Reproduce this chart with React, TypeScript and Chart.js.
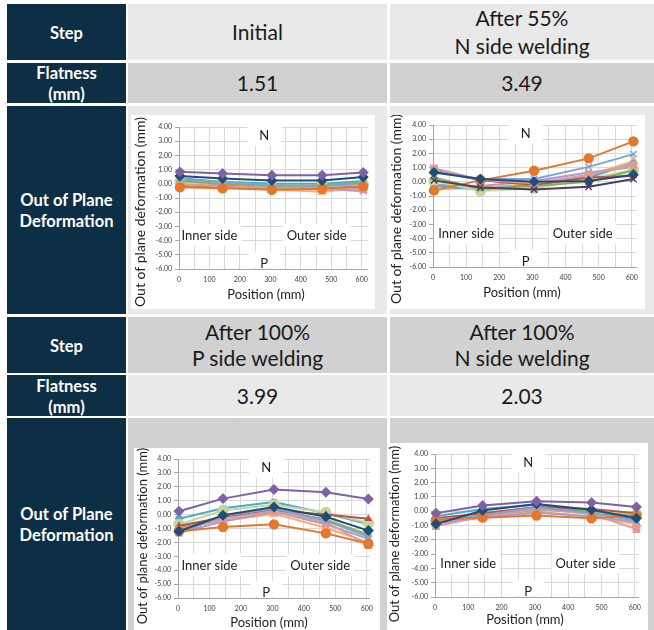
import React, { useEffect, useRef } from "react";
import { Chart, registerables } from "chart.js";
Chart.register(...registerables);

// ---------- data ----------
const positions = [3, 143, 305, 470, 605];
const xGridTicks = [0, 50, 100, 150, 200, 250, 300, 350, 400, 450, 500, 550, 600];
const yTickValues = [4, 3, 2, 1, 0, -1, -2, -3, -4, -5, -6];

const stepLabels = ["Initial", "After 55%\nN side welding", "After 100%\nP side welding", "After 100%\nN side welding"];
const flatnessValues = ["1.51", "3.49", "3.99", "2.03"];
const sideLabels = ["N", "P", "Inner side", "Outer side"];
const sideLabelX = [280, 280, 100, 452];
const sideLabelY = [3.45, -5.55, -3.6, -3.6];

// Initial
const initialPurple = [0.84, 0.72, 0.6, 0.6, 0.8];
const initialDarkBlue = [0.55, 0.37, 0.23, 0.23, 0.48];
const initialOrange = [-0.25, -0.32, -0.42, -0.35, -0.18];
const initialLightBlue = [0.4, 0.12, -0.08, -0.18, 0.02];
const initialPink = [-0.05, -0.18, -0.32, -0.3, -0.4];
const initialRed = [-0.12, -0.15, -0.35, -0.32, -0.2];
const initialGreen = [0.2, 0.0, -0.15, -0.1, 0.1];
const initialLightGreen = [0.12, -0.2, -0.25, -0.15, -0.05];
const initialTeal = [0.3, 0.15, 0.02, 0.0, 0.2];
const initialLightPurple = [0.05, -0.1, -0.3, -0.35, -0.52];
const initialLightOrange = [-0.1, -0.25, -0.4, -0.56, -0.3];

// After 55% N side welding
const n55DarkPurple = [0.1, -0.4, -0.55, -0.35, 0.2];
const n55DarkBlue = [0.65, 0.2, 0.0, 0.05, 0.5];
const n55Orange = [-0.6, 0.1, 0.78, 1.65, 2.85];
const n55LightBlue = [0.75, 0.2, 0.2, 1.05, 1.95];
const n55Pink = [0.95, 0.15, -0.1, 0.5, 1.2];
const n55Red = [0.8, 0.1, -0.2, 0.3, 0.4];
const n55Green = [0.3, -0.5, -0.3, 0.0, 0.8];
const n55LightGreen = [0.05, -0.65, -0.45, 0.2, 0.85];
const n55Teal = [-0.3, -0.55, -0.2, 0.3, 1.3];
const n55LightPurple = [-0.2, -0.3, 0.05, 0.65, 1.05];
const n55LightOrange = [-0.55, -0.4, -0.15, 0.45, 1.45];

// After 100% P side welding
const p100Purple = [0.24, 1.15, 1.8, 1.6, 1.12];
const p100DarkBlue = [-1.2, -0.05, 0.55, -0.15, -1.15];
const p100Orange = [-1.2, -0.9, -0.7, -1.35, -2.1];
const p100LightBlue = [-1.35, -0.1, 0.45, -0.45, -1.6];
const p100Pink = [-1.1, -0.3, 0.25, -0.55, -2.2];
const p100Red = [-0.8, -0.2, 0.3, 0.0, -0.3];
const p100Green = [-0.9, -0.25, 0.35, -0.35, -1.45];
const p100LightGreen = [-0.7, 0.3, 0.7, 0.15, -0.6];
const p100Teal = [-0.3, 0.45, 0.9, 0.1, -0.7];
const p100LightPurple = [-1.3, -0.5, 0.2, -0.7, -1.75];
const p100LightOrange = [-0.95, -0.45, 0.05, -0.95, -2.0];

// After 100% N side welding
const n100Purple = [-0.15, 0.4, 0.7, 0.6, 0.3];
const n100DarkBlue = [-0.9, 0.05, 0.5, 0.1, -0.5];
const n100Orange = [-0.6, -0.45, -0.3, -0.5, -0.3];
const n100LightBlue = [-0.6, -0.3, 0.3, -0.15, -0.65];
const n100Pink = [-1.05, -0.35, 0.15, -0.2, -1.25];
const n100Red = [-0.5, -0.15, 0.3, 0.15, -0.15];
const n100Green = [-0.65, -0.3, 0.1, 0.0, -0.35];
const n100LightGreen = [-0.75, -0.25, 0.2, -0.1, -0.2];
const n100Teal = [-0.35, 0.15, 0.45, -0.05, -0.55];
const n100LightPurple = [-0.85, -0.45, -0.1, -0.35, -0.75];
const n100LightOrange = [-0.7, -0.4, 0.0, -0.4, -0.9];

// ---------- styles ----------
const STYLE: Record<string, { color: string; marker: string; r: number }> = {
  purple: { color: "#7F62A3", marker: "rectRot", r: 4.5 },
  darkPurple: { color: "#4D3B62", marker: "crossRot", r: 4.5 },
  darkBlue: { color: "#1F4E79", marker: "rectRot", r: 4.5 },
  orange: { color: "#E3782E", marker: "circle", r: 4.5 },
  lightBlue: { color: "#7EA3D6", marker: "crossRot", r: 4.5 },
  pink: { color: "#E09A98", marker: "rect", r: 4.5 },
  red: { color: "#C0504D", marker: "triangle", r: 3 },
  green: { color: "#8DB04F", marker: "triangle", r: 3.5 },
  lightGreen: { color: "#C3D69B", marker: "circle", r: 5 },
  teal: { color: "#4BACC6", marker: "circle", r: 3 },
  lightPurple: { color: "#A99BCB", marker: "crossRot", r: 4.5 },
  lightOrange: { color: "#F9AB6B", marker: "triangle", r: 4.5 },
};

function seriesList(topKey, p, db, o, lb, pk, rd, g, lg, t, lp, lo) {
  return [
    [topKey, p], ["darkBlue", db], ["orange", o], ["lightBlue", lb], ["pink", pk],
    ["red", rd], ["green", g], ["lightGreen", lg], ["teal", t], ["lightPurple", lp], ["lightOrange", lo],
  ];
}

const CHARTS = [
  {
    series: seriesList("purple", initialPurple, initialDarkBlue, initialOrange, initialLightBlue, initialPink, initialRed, initialGreen, initialLightGreen, initialTeal, initialLightPurple, initialLightOrange),
    left: 131, top: 115, w: 244, h: 194, L: 48, T: 12, R: 239, B: 154, xMax: 620,
    yTitle: { x: 9, y: 97, size: 14 }, xTitle: { x: 135, y: 180 },
  },
  {
    series: seriesList("darkPurple", n55DarkPurple, n55DarkBlue, n55Orange, n55LightBlue, n55Pink, n55Red, n55Green, n55LightGreen, n55Teal, n55LightPurple, n55LightOrange),
    left: 389, top: 115, w: 256, h: 194, L: 44, T: 10, R: 254, B: 152, xMax: 615,
    yTitle: { x: 7, y: 94, size: 14 }, xTitle: { x: 133, y: 178 },
  },
  {
    series: seriesList("purple", p100Purple, p100DarkBlue, p100Orange, p100LightBlue, p100Pink, p100Red, p100Green, p100LightGreen, p100Teal, p100LightPurple, p100LightOrange),
    left: 134, top: 448, w: 246, h: 188, L: 44, T: 11, R: 244, B: 150, xMax: 610,
    yTitle: { x: 9, y: 88, size: 13 }, xTitle: { x: 135, y: 175 },
  },
  {
    series: seriesList("purple", n100Purple, n100DarkBlue, n100Orange, n100LightBlue, n100Pink, n100Red, n100Green, n100LightGreen, n100Teal, n100LightPurple, n100LightOrange),
    left: 388, top: 443, w: 260, h: 193, L: 47, T: 11, R: 255, B: 154, xMax: 612,
    yTitle: { x: 7, y: 91, size: 13 }, xTitle: { x: 137, y: 177 },
  },
];

const FONT = "Lato, 'Open Sans', sans-serif";
const Y_AXIS_W = 24;
const X_AXIS_H = 14;

function MiniChart({ cfg }) {
  const ref = useRef<HTMLCanvasElement>(null);
  useEffect(() => {
    const g = cfg;
    const overlay = {
      id: "overlay",
      beforeDatasetsDraw(chart) {
        const { ctx, chartArea } = chart;
        const xs = chart.scales.x;
        const ys = chart.scales.y;
        ctx.save();
        ctx.beginPath();
        ctx.rect(chartArea.left + 1, chartArea.top, chartArea.right - chartArea.left - 1, chartArea.bottom - chartArea.top - 1);
        ctx.clip();
        ctx.font = `13px ${FONT}`;
        ctx.textAlign = "center";
        ctx.textBaseline = "middle";
        sideLabels.forEach((t, i) => {
          const px = xs.getPixelForValue(sideLabelX[i]);
          const py = ys.getPixelForValue(sideLabelY[i]);
          const tw = ctx.measureText(t).width;
          const padX = t.length === 1 ? 12 : 4;
          ctx.fillStyle = "#ffffff";
          ctx.fillRect(px - tw / 2 - padX, py - 11, tw + padX * 2, 22);
          ctx.fillStyle = "#1e1e1e";
          ctx.fillText(t, px, py + 1);
        });
        ctx.restore();
      },
      afterDraw(chart) {
        const { ctx } = chart;
        ctx.save();
        ctx.fillStyle = "#1e1e1e";
        ctx.textAlign = "center";
        ctx.textBaseline = "middle";
        ctx.font = `13px ${FONT}`;
        ctx.fillText("Position (mm)", g.xTitle.x, g.xTitle.y);
        ctx.translate(g.yTitle.x, g.yTitle.y);
        ctx.rotate(-Math.PI / 2);
        ctx.font = `${g.yTitle.size}px ${FONT}`;
        ctx.fillText("Out of plane deformation (mm)", 0, 0);
        ctx.restore();
      },
    };
    const chart = new Chart(ref.current!, {
      type: "line",
      data: {
        datasets: g.series.map(([key, vals]) => {
          const s = STYLE[key];
          return {
            label: key,
            data: positions.map((x, i) => ({ x, y: vals[i] })),
            borderColor: s.color,
            backgroundColor: s.color,
            borderWidth: 2,
            pointStyle: s.marker,
            pointRadius: s.r,
            pointBorderWidth: 1.4,
            pointBackgroundColor: s.color,
            pointBorderColor: s.color,
            tension: 0,
            clip: false,
          };
        }),
      },
      options: {
        responsive: false,
        animation: false,
        events: [],
        layout: {
          padding: { left: g.L - Y_AXIS_W, top: g.T, right: g.w - g.R, bottom: g.h - g.B - X_AXIS_H },
        },
        plugins: { legend: { display: false }, tooltip: { enabled: false }, title: { display: false } },
        scales: {
          x: {
            type: "linear",
            min: 0,
            max: g.xMax,
            afterBuildTicks: (s) => { s.ticks = xGridTicks.map((v) => ({ value: v })); },
            afterFit: (s) => { s.height = X_AXIS_H; },
            ticks: {
              autoSkip: false,
              maxRotation: 0,
              padding: 7,
              font: { family: FONT, size: 7 },
              color: "#404040",
              callback: (v) => (Number(v) % 100 === 0 ? String(v) : ""),
            },
            grid: { color: "#d9d9d9", lineWidth: 1, drawTicks: false },
            border: { display: true, color: "#a6a6a6" },
          },
          y: {
            type: "linear",
            min: -6,
            max: 4,
            afterBuildTicks: (s) => { s.ticks = yTickValues.map((v) => ({ value: v })); },
            afterFit: (s) => { s.width = Y_AXIS_W; },
            ticks: {
              autoSkip: false,
              padding: 3,
              font: { family: FONT, size: 7 },
              color: "#404040",
              callback: (v) => Number(v).toFixed(2),
            },
            grid: { color: "#d9d9d9", lineWidth: 1, drawTicks: true, tickLength: 4, tickColor: "#a6a6a6" },
            border: { display: true, color: "#a6a6a6" },
          },
        },
      },
      plugins: [overlay],
    });
    return () => chart.destroy();
  }, []);
  return (
    <div style={{ position: "absolute", left: cfg.left, top: cfg.top, width: cfg.w, height: cfg.h, background: "#fff" }}>
      <canvas ref={ref} width={cfg.w} height={cfg.h} style={{ display: "block" }} />
    </div>
  );
}

const NAVY = "#0d2f46";
const LIGHT = "#e9e9e9";
const DARK = "#d1d1d1";

const rows = [
  { top: 4, h: 56, label: "Step", bg: LIGHT, kind: "step", idx: 0 },
  { top: 63, h: 40, label: "Flatness\n(mm)", bg: DARK, kind: "flat", idx: 0 },
  { top: 106, h: 208, label: "Out of Plane\nDeformation", bg: LIGHT, kind: "chart", idx: 0 },
  { top: 317, h: 56, label: "Step", bg: DARK, kind: "step", idx: 2 },
  { top: 375, h: 41, label: "Flatness\n(mm)", bg: LIGHT, kind: "flat", idx: 2 },
  { top: 418, h: 212, label: "Out of Plane\nDeformation", bg: DARK, kind: "chart", idx: 2 },
];
const cols = [
  { left: 128, w: 259 },
  { left: 390, w: 264 },
];

function Cell({ left, top, w, h, bg, children, style = {} }) {
  return (
    <div
      style={{
        position: "absolute", left, top, width: w, height: h, background: bg,
        display: "flex", alignItems: "center", justifyContent: "center", textAlign: "center",
        whiteSpace: "pre-line", ...style,
      }}
    >
      {children}
    </div>
  );
}

export default function App() {
  return (
    <div style={{ position: "absolute", left: 0, top: 0, width: 654, height: 630, overflow: "hidden", background: "#fff", fontFamily: FONT }}>
      {rows.map((r, ri) => (
        <React.Fragment key={ri}>
          <Cell left={7} top={r.top} w={119} h={r.h} bg={NAVY}
            style={{ color: "#fff", fontWeight: 700, fontSize: 16.5, lineHeight: "21px", paddingTop: 2, boxSizing: "border-box" }}>
            {r.label}
          </Cell>
          {cols.map((c, ci) => (
            <Cell key={ci} left={c.left} top={r.top} w={c.w} h={r.h} bg={r.bg}
              style={{ color: "#1a1a1a", fontSize: 21, lineHeight: r.kind === "step" && r.idx === 0 ? "28px" : "26px" }}>
              {r.kind === "step" ? stepLabels[r.idx + ci] : r.kind === "flat" ? flatnessValues[r.idx + ci] : null}
            </Cell>
          ))}
        </React.Fragment>
      ))}
      {CHARTS.map((c, i) => (
        <MiniChart key={i} cfg={c} />
      ))}
    </div>
  );
}
